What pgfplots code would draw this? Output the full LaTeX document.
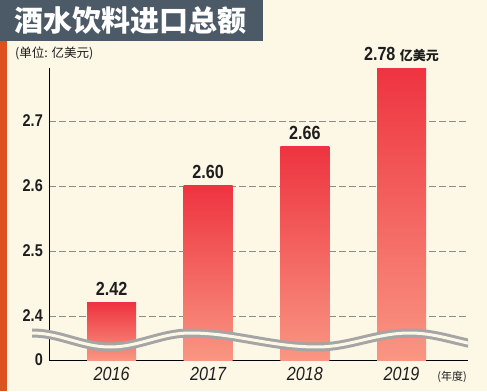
\documentclass[border=0pt]{standalone}
\usepackage{pgfplots}
\pgfplotsset{compat=1.18}
\usepackage{fontspec}
\setmainfont{Liberation Sans}
\newfontfamily\numfont{Liberation Sans}[FakeStretch=0.85]
\newfontfamily\cjk{Noto Sans CJK SC}
\definecolor{bgcream}{RGB}{253,247,230}
\definecolor{titlegray}{RGB}{75,90,102}
\definecolor{stripor}{RGB}{222,82,32}
\definecolor{barred}{RGB}{238,52,64}
\definecolor{barpink}{RGB}{249,150,130}
\definecolor{gridgray}{RGB}{140,140,140}
\definecolor{wavegray}{RGB}{165,165,165}
\definecolor{textdark}{RGB}{30,30,30}
\begin{document}
\begin{tikzpicture}[x=1pt,y=1pt]
\fill[bgcream] (0,0) rectangle (487,391);
\fill[titlegray] (0,350) rectangle (263,391);
\fill[stripor] (0,0) rectangle (7,350);
\node[anchor=west, text=white, font=\cjk\bfseries\fontsize{29}{29}\selectfont, inner sep=0pt] at (14,370) {酒水饮料进口总额};
\node[anchor=west, text=textdark, font=\cjk\fontsize{12.5}{13}\selectfont, inner sep=0pt] at (15,338) {(单位: 亿美元)};
\begin{axis}[
  at={(49pt,31pt)}, anchor=south west,
  scale only axis, width=419pt, height=292.5pt,
  xmin=-0.647, xmax=3.688, ymin=0, ymax=0.45,
  axis x line=bottom, axis y line=left,
  axis line style={-, line width=0.8pt, black},
  clip=false,
  /pgf/number format/assume math mode=true,
  xtick={0,1,2,3}, xticklabels={2016,2017,2018,2019},
  ytick={0,0.0677,0.1677,0.2677,0.3677}, yticklabels={0,2.4,2.5,2.6,2.7},
  major tick length=0pt,
  ymajorgrids,
  grid style={gridgray, line width=0.5pt, dash pattern=on 7pt off 3pt},
  yticklabel style={font=\numfont\bfseries\fontsize{17}{17}\selectfont, text=textdark, inner sep=0pt, xshift=-6pt},
  xticklabel style={font=\numfont\itshape\fontsize{19}{19}\selectfont, text=textdark, inner sep=0pt, yshift=-7pt},
  every node near coord/.append style={font=\numfont\bfseries\fontsize{19}{19}\selectfont, text=textdark, anchor=south, inner sep=0pt, yshift=7pt},
  barstyle/.style={ybar, bar width=49pt, bar shift=0pt, draw=none, top color=barred, bottom color=barpink, point meta=explicit},
  numlabel/.style={nodes near coords={\pgfmathprintnumber[fixed,fixed zerofill,precision=2,assume math mode=true]{\pgfplotspointmeta}}},
]
\addplot[barstyle, numlabel] table[x=x, y expr=\thisrow{v}-2.3323, meta=v] {
x v
0 2.42
};
\addplot[barstyle, numlabel] table[x=x, y expr=\thisrow{v}-2.3323, meta=v] {
x v
1 2.60
};
\addplot[barstyle, numlabel] table[x=x, y expr=\thisrow{v}-2.3323, meta=v] {
x v
2 2.66
};
\addplot[barstyle,
  nodes near coords={\pgfmathprintnumber[fixed,fixed zerofill,precision=2,assume math mode=true]{\pgfplotspointmeta}\ {\cjk\bfseries\fontsize{13}{13}\selectfont 亿美元}}]
  table[x=x, y expr=\thisrow{v}-2.3323, meta=v] {
x v
3 2.78
};
\end{axis}
\begin{scope}
\clip (32,0) rectangle (468,391);
\draw[line width=3pt, draw=wavegray, double=bgcream, double distance=3pt]
  (32,58) cos (71,51) sin (110,44) cos (150,51) sin (190,58) cos (253,51) sin (317,44) cos (363,51) sin (410,58) cos (455,51) sin (500,44);
\end{scope}
\node[anchor=center, text=textdark, font=\cjk\fontsize{11}{11}\selectfont, inner sep=0pt] at (452,14) {(年度)};
\end{tikzpicture}
\end{document}
